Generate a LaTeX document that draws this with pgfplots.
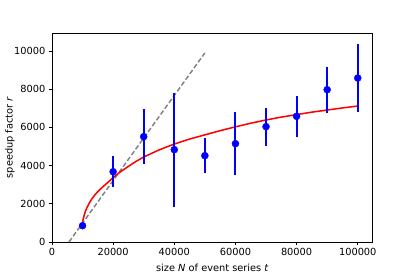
\documentclass[border=0pt]{standalone}
\usepackage{fontspec}
\setmainfont{DejaVu Sans}
\usepackage{pgfplots}
\pgfplotsset{compat=1.18}
\begin{document}
\begin{tikzpicture}
\path[use as bounding box] (0,0) rectangle (436pt,291pt);
\begin{axis}[
  at={(54.6pt,36.75pt)}, anchor=south west,
  scale only axis, width=337pt, height=219.5pt,
  xmin=0, xmax=104900, ymin=0, ymax=10940,
  xtick={0,20000,40000,60000,80000,100000},
  xticklabels={0,20000,40000,60000,80000,100000},
  ytick={0,2000,4000,6000,8000,10000},
  yticklabels={0,2000,4000,6000,8000,10000},
  scaled ticks=false,
  tick align=outside, tick pos=left,
  major tick length=3.5pt,
  tick style={black, line width=0.9pt},
  ticklabel style={font=\fontsize{10.3}{12}\selectfont},
  axis line style={line width=0.9pt},
  xlabel={size \textit{N} of event series \textit{t}},
  ylabel={speedup factor \textit{r}},
  label style={font=\fontsize{10.3}{12}\selectfont},
  xlabel style={at={(axis description cs:0.5,-0.124)}, anchor=center},
  ylabel style={at={(axis description cs:-0.131,0.5)}, anchor=center},
  clip=true,
]
\addplot[gray, line width=1.5pt, dash pattern=on 5pt off 2.5pt] coordinates {(5560,0) (50000,9900)};
\addplot[red, line width=1.6pt] coordinates {
(10000,1060) (10500,1380) (11000,1640) (12000,1980) (13000,2250) (14000,2460)
(15000,2640) (16500,2870) (18000,3080) (20000,3370) (22500,3690) (25000,3960)
(27500,4220) (30000,4450) (35000,4820) (40000,5130) (45000,5390) (50000,5610)
(55000,5830) (60000,6030) (65000,6220) (70000,6390) (75000,6540) (80000,6670)
(85000,6800) (90000,6910) (95000,7020) (100000,7120)};
\addplot[blue, only marks, mark=*, mark size=3.7pt, mark options={draw=blue, fill=blue},
  error bars/.cd, y dir=both, y explicit, error mark=none,
  error bar style={blue, line width=2pt}]
  coordinates {
  (10000,855) +- (0,160)
  (20000,3680) +- (0,820)
  (30000,5515) +- (0,1430)
  (40000,4835) +- (0,2990)
  (50000,4520) +- (0,900)
  (60000,5150) +- (0,1650)
  (70000,6040) +- (0,995)
  (80000,6580) +- (0,1065)
  (90000,7975) +- (0,1195)
  (100000,8585) +- (0,1765)
};
\end{axis}
\end{tikzpicture}
\end{document}
